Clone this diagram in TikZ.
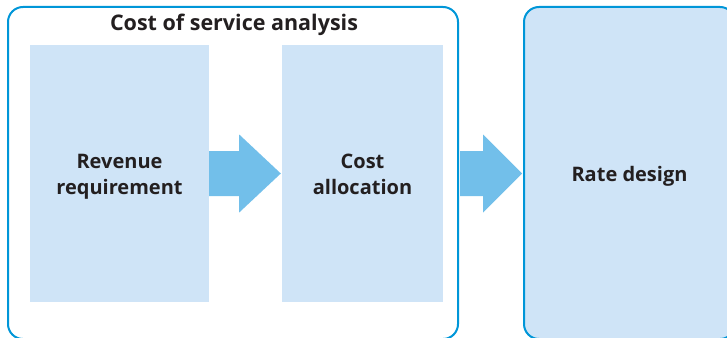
\documentclass[tikz,border=0pt]{standalone}
\usepackage{fontspec}
\setmainfont{Open Sans}
\usetikzlibrary{calc}
\definecolor{edgeblue}{HTML}{0096D8}
\definecolor{paleblue}{HTML}{CFE4F7}
\definecolor{arrowblue}{HTML}{72BFEA}
\definecolor{inkgrey}{HTML}{231F20}
\begin{document}
\begin{tikzpicture}[x=1pt,y=-1pt,
  frame/.style={draw=edgeblue, line width=2pt, rounded corners=15pt, inner sep=0pt},
  stage/.style={fill=paleblue, inner sep=0pt},
  stagetext/.style={text=inkgrey, inner sep=0pt, align=center,
    font=\bfseries\fontsize{20}{26}\selectfont},
  heading/.style={text=inkgrey, inner sep=0pt, font=\bfseries\fontsize{21.5}{26}\selectfont},
  blockarrow/.style={fill=arrowblue}]
\useasboundingbox (0,0) rectangle (727,337);

% outer frame of the analysis group and the rate design stage
\node[frame, minimum width=450pt, minimum height=332pt] (cosa) at (233,173) {};
\node[frame, stage, minimum width=211pt, minimum height=332pt,
  label={[stagetext, yshift=-3.5pt]center:Rate design\strut}] (rate) at (629.5,173) {};

% stages inside the group
\node[stage, minimum width=179pt, minimum height=257pt,
  label={[stagetext, yshift=-2.5pt]center:Revenue\strut\\requirement\strut}] (rev) at (119.5,173.5) {};
\node[stage, minimum width=161pt, minimum height=257pt,
  label={[stagetext, yshift=-2.5pt]center:Cost\strut\\allocation\strut}] (alloc) at (362.5,173.5) {};

\node[heading] (ttl) at (234,25) {Cost of service analysis};

% block arrows between the stages
\fill[blockarrow] ($(rev.east)+(0,-22.5)$) -- ++(30,0) -- ++(0,-16.5)
  -- ($(alloc.west)+(-1,0)$) -- ($(rev.east)+(30,39)$) -- ++(0,-16.5)
  -- ($(rev.east)+(0,22.5)$) -- cycle;
\fill[blockarrow] ($(cosa.east |- rev.east)+(1,-22.5)$) -- ++(23,0) -- ++(0,-16.5)
  -- ($(rate.west |- rev.east)+(-1,0)$) -- ($(cosa.east |- rev.east)+(24,39)$) -- ++(0,-16.5)
  -- ($(cosa.east |- rev.east)+(1,22.5)$) -- cycle;
\end{tikzpicture}
\end{document}
